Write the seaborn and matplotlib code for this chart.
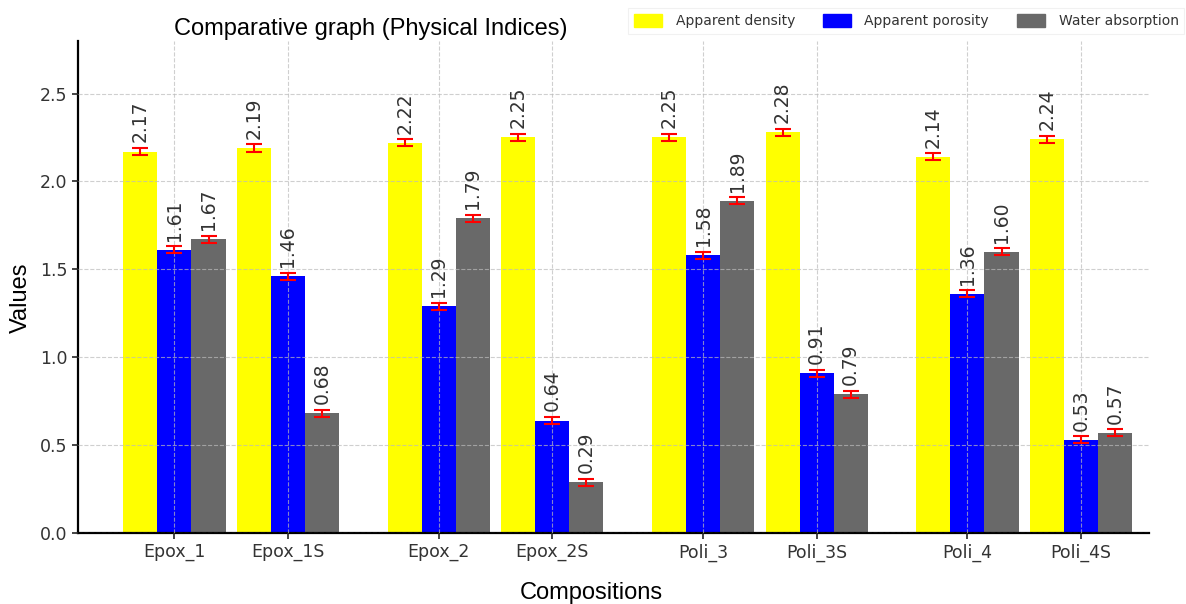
import numpy as np
import pandas as pd
import matplotlib
matplotlib.use("Agg")
import matplotlib.pyplot as plt
import matplotlib.patches as mpatches
import seaborn as sns

# Data
compositions = ["Epox_1", "Epox_1S", "Epox_2", "Epox_2S", "Poli_3", "Poli_3S", "Poli_4", "Poli_4S"]
density = [2.17, 2.19, 2.22, 2.25, 2.25, 2.28, 2.14, 2.24]
porosity = [1.61, 1.46, 1.29, 0.64, 1.58, 0.91, 1.36, 0.53]
absorption = [1.67, 0.68, 1.79, 0.29, 1.89, 0.79, 1.60, 0.57]
metrics = ["Apparent density", "Apparent porosity", "Water absorption"]
error = 0.02

colors = ["yellow", "blue", "dimgray"]

sns.set_theme(style="ticks")
plt.rcParams["font.family"] = ["DejaVu Sans"]

# x positions: pairs of compositions separated by an extra gap
idx = np.arange(len(compositions))
pos = idx + (idx // 2) * 0.33

df = pd.DataFrame({
    "pos": np.tile(pos, 3),
    "value": density + porosity + absorption,
    "metric": np.repeat(metrics, len(compositions)),
})

fig = plt.figure(figsize=(11.86, 6.04), dpi=100)
ax = fig.add_axes([0.0658, 0.1175, 0.903, 0.815])

sns.barplot(data=df, x="pos", y="value", hue="metric", hue_order=metrics,
            palette=colors, native_scale=True, orient="x", width=0.9,
            errorbar=None, saturation=1, linewidth=0, legend=False, ax=ax)

offsets = [-0.3, 0.0, 0.3]
for vals, off in zip([density, porosity, absorption], offsets):
    xs = pos + off
    ax.errorbar(xs, vals, yerr=error, fmt="none", ecolor="red",
                elinewidth=1.5, capsize=6, capthick=1.5, zorder=3)
    for x, v in zip(xs, vals):
        ax.annotate(f"{v:.2f}", (x, v + error), xytext=(0, 4),
                    textcoords="offset points", rotation=90,
                    ha="center", va="bottom", fontsize=13.5, color="#333333")

ax.set_xlim(-0.85, 8.59)
ax.set_ylim(0, 2.8)
ax.set_xticks(pos)
ax.set_xticklabels(compositions)
ax.set_yticks([0.0, 0.5, 1.0, 1.5, 2.0, 2.5])
ax.set_yticklabels(["0.0", "0.5", "1.0", "1.5", "2.0", "2.5"])
ax.tick_params(labelsize=12.5, labelcolor="#333333", length=4, width=1.2)

ax.set_axisbelow(False)
ax.grid(True, linestyle="--", color="#bbbbbb", linewidth=0.8, alpha=0.7)

sns.despine(ax=ax)
for s in ["left", "bottom"]:
    ax.spines[s].set_linewidth(1.6)
    ax.spines[s].set_color("black")

label_font = dict(family=["Liberation Sans", "DejaVu Sans"], fontsize=17, color="black")
ax.set_title("Comparative graph (Physical Indices)", x=0.273, pad=4, **label_font)
ax.set_xlabel("Compositions", **label_font)
ax.set_ylabel("Values", **label_font)
ax.xaxis.set_label_coords(0.479, -0.10)
ax.yaxis.set_label_coords(-0.043, 0.478)

handles = [mpatches.Patch(color=c, label=m) for c, m in zip(colors, metrics)]
leg = fig.legend(handles=handles, loc="upper left", bbox_to_anchor=(0.524, 0.998),
                 ncol=3, fontsize=10, frameon=True, handlelength=2.0,
                 handleheight=1.1, handletextpad=1.0, columnspacing=2.0,
                 borderpad=0.4, fancybox=False)
leg.get_frame().set_edgecolor("#eeeeee")
leg.get_frame().set_linewidth(0.8)
for t in leg.get_texts():
    t.set_color("#333333")

fig.savefig("out.png", dpi=100)
